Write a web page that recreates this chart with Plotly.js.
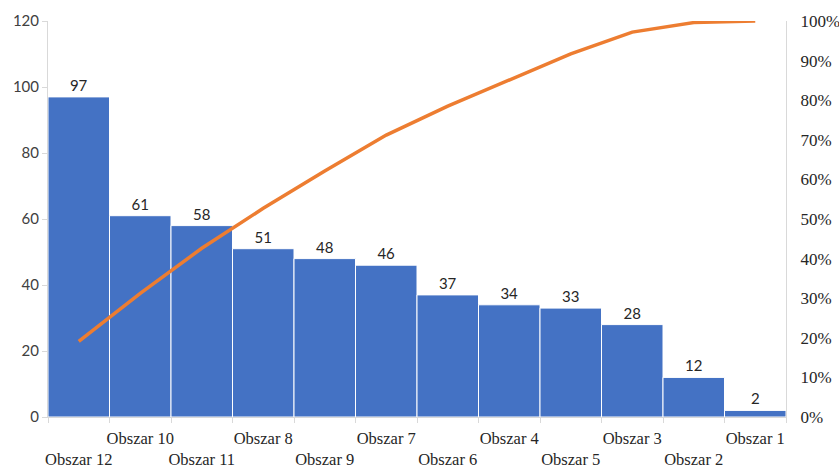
<!DOCTYPE html>
<html>
<head>
<meta charset="utf-8">
<script src="https://cdn.plot.ly/plotly-3.0.1.min.js"></script>
<style>html,body{margin:0;padding:0;background:#fff;}#chart{width:839px;height:468px;}</style>
</head>
<body>
<div id="chart"></div>
<script>
const categories = ["Obszar 12","Obszar 10","Obszar 11","Obszar 8","Obszar 9","Obszar 7","Obszar 6","Obszar 4","Obszar 5","Obszar 3","Obszar 2","Obszar 1"];
const counts = [97,61,58,51,48,46,37,34,33,28,12,2];
const cumulativePct = [19.1,31.2,42.6,52.7,62.1,71.2,78.5,85.2,91.7,97.2,99.6,100];
const leftTicks = [0,20,40,60,80,100,120];
const rightTicks = [0,10,20,30,40,50,60,70,80,90,100];

const tickLabels = categories.map((c,i) => i % 2 === 0 ? '\u00a0<br>' + c : c);
const rightLabels = rightTicks.map(v => v + '%');

const SERIF = 'Liberation Serif';
const SANS = 'Lato';

const bars = {
  type: 'bar', x: categories, y: counts,
  marker: {color: '#4472C4', line: {color: '#ffffff', width: 1}},
  text: counts.map(String), textposition: 'outside', cliponaxis: false,
  textfont: {family: SANS, size: 15, color: '#262626'},
  hoverinfo: 'x+y'
};
const line = {
  type: 'scatter', mode: 'lines', x: categories, y: cumulativePct, yaxis: 'y2',
  line: {color: '#ED7D31', width: 3.5}
};

const layout = {
  width: 839, height: 468,
  margin: {l: 48, r: 53, t: 21, b: 51},
  paper_bgcolor: '#ffffff', plot_bgcolor: '#ffffff',
  font: {family: SERIF, size: 16, color: '#262626'},
  showlegend: false, bargap: 0,
  xaxis: {
    type: 'category', tickmode: 'array', tickvals: categories, ticktext: tickLabels,
    tickson: 'boundaries', ticks: 'outside', ticklen: 5, tickcolor: '#d9d9d9',
    showline: true, linecolor: '#d9d9d9', linewidth: 1, showgrid: false,
    tickangle: 0, automargin: false, ticklabelstandoff: 6,
    tickfont: {family: SERIF, size: 16.5, color: '#262626'}
  },
  yaxis: {
    range: [0, 120], tickmode: 'array', tickvals: leftTicks,
    ticks: 'outside', ticklen: 5, tickcolor: '#d9d9d9',
    showline: true, linecolor: '#d9d9d9', linewidth: 1, showgrid: false, zeroline: false,
    automargin: false,
    tickfont: {family: SANS, size: 15, color: '#404040'}
  },
  yaxis2: {
    overlaying: 'y', side: 'right', anchor: 'x', range: [0, 100], tickmode: 'array',
    tickvals: rightTicks, ticktext: rightLabels,
    ticks: 'outside', ticklen: 10, tickcolor: 'rgba(0,0,0,0)',
    showline: true, linecolor: '#d9d9d9', linewidth: 1, showgrid: false,
    zeroline: false, automargin: false,
    tickfont: {family: SERIF, size: 17, color: '#262626'}
  }
};

Plotly.newPlot('chart', [bars, line], layout, {displayModeBar: false, staticPlot: true});
</script>
</body>
</html>
